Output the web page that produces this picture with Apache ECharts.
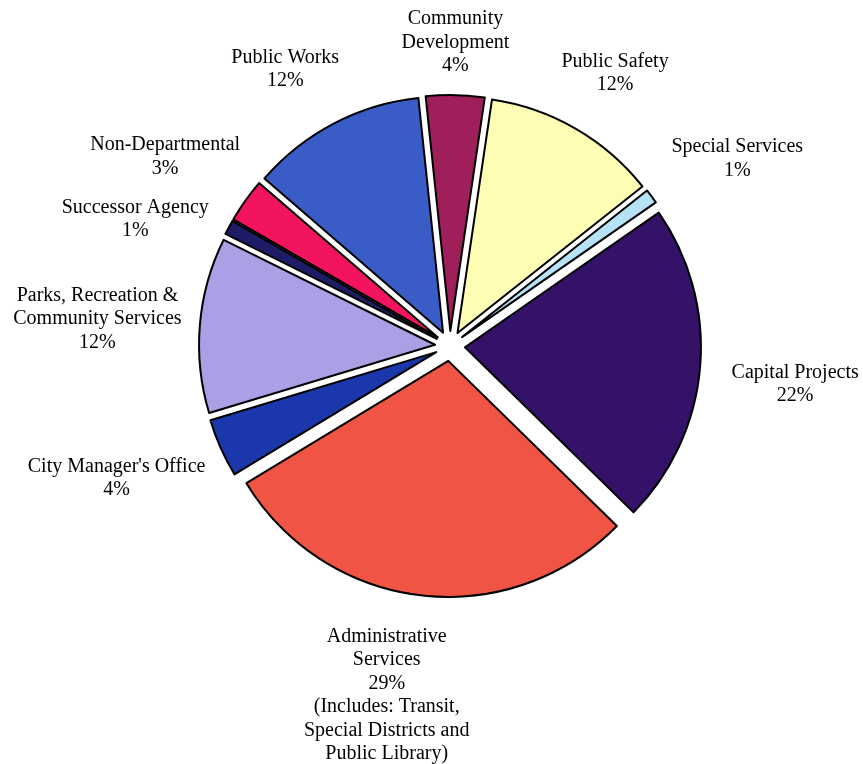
<!DOCTYPE html>
<html>
<head>
<meta charset="utf-8">
<script src="https://cdn.jsdelivr.net/npm/echarts@6/dist/echarts.min.js"></script>
<style>html,body{margin:0;padding:0;background:#fff}#c{width:863px;height:764px}</style>
</head>
<body>
<div id="c"></div>
<script>
var categories = ["Community\nDevelopment", "Public Safety", "Special Services", "Capital Projects",
  "Administrative\nServices", "City Manager's Office", "Parks, Recreation &\nCommunity Services",
  "Successor Agency", "Non-Departmental", "Public Works"];
var values = [4, 12, 1, 22, 29, 4, 12, 1, 3, 12];
var notes = ["", "", "", "", "\n(Includes: Transit,\nSpecial Districts and\nPublic Library)", "", "", "", "", ""];
var colors = ["#9E1F5A", "#FDFDB4", "#B5E2F4", "#35126A", "#F05444", "#1A38AC", "#ABA0E6", "#1F1C66", "#F2145E", "#3A5CC6"];
// layout nudges for label placement (pixels), separate from the data
var labelNudge = [[-1, 4], [6, 3], [16, 14], [10, 10], [-23, 1], [-3, -15], [4, 3], [-9, 37], [-3, 11], [-18, 4]];

var CX = 450, CY = 346, R = 236, OFFSET = 15, GAP = 20, START = 96;
var FONT_FAMILY = '"Liberation Serif", "Times New Roman", serif';
var FONT_SIZE = 20, LINE_H = 23.5;

var total = values.reduce(function (a, b) { return a + b; }, 0);
var mids = [];
(function () {
  var acc = 0;
  for (var i = 0; i < values.length; i++) {
    var midFrac = (acc + values[i] / 2) / total;
    mids.push((START - midFrac * 360) * Math.PI / 180);
    acc += values[i];
  }
})();

var data = categories.map(function (c, i) {
  return {
    name: c,
    value: values[i],
    selected: true,
    itemStyle: { color: colors[i], borderColor: '#000', borderWidth: 2 }
  };
});

var measureCtx = document.createElement('canvas').getContext('2d');
measureCtx.font = FONT_SIZE + 'px ' + FONT_FAMILY;

var labels = categories.map(function (c, i) {
  var text = c + '\n' + values[i] + '%' + notes[i];
  var lines = text.split('\n');
  var w = 0;
  lines.forEach(function (l) { w = Math.max(w, measureCtx.measureText(l).width); });
  var hw = w / 2, hh = lines.length * LINE_H / 2;
  var a = mids[i];
  var ux = Math.cos(a), uy = -Math.sin(a);
  var d = R + OFFSET + GAP + hw * Math.abs(ux) + hh * Math.abs(uy);
  return {
    type: 'text',
    x: CX + d * ux + labelNudge[i][0],
    y: CY + d * uy + labelNudge[i][1],
    silent: true,
    style: {
      text: text,
      fill: '#000',
      fontFamily: FONT_FAMILY,
      fontSize: FONT_SIZE,
      lineHeight: LINE_H,
      align: 'center',
      verticalAlign: 'middle',
      textAlign: 'center',
      textVerticalAlign: 'middle'
    }
  };
});

var chart = echarts.init(document.getElementById('c'), null, { renderer: 'canvas' });
chart.setOption({
  backgroundColor: '#fff',
  animation: false,
  series: [{
    type: 'pie',
    center: [CX, CY],
    radius: [0, R],
    startAngle: START,
    clockwise: true,
    selectedMode: 'multiple',
    selectedOffset: OFFSET,
    silent: true,
    data: data,
    select: { itemStyle: { borderColor: '#000', borderWidth: 2 } },
    itemStyle: { borderColor: '#000', borderWidth: 2 },
    label: { show: false },
    labelLine: { show: false }
  }],
  graphic: labels
});
</script>
</body>
</html>
